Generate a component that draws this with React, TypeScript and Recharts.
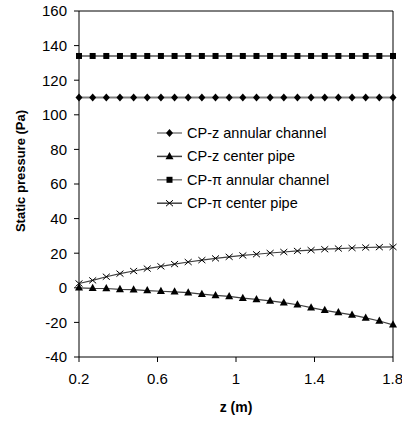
import { LineChart, Line, XAxis, YAxis, ReferenceLine } from 'recharts';

const zValues = [
  0.2, 0.2696, 0.3391, 0.4087, 0.4783, 0.5478, 0.6174, 0.687, 0.7565, 0.8261, 0.8957, 0.9652,
  1.0348, 1.1043, 1.1739, 1.2435, 1.313, 1.3826, 1.4522, 1.5217, 1.5913, 1.6609, 1.7304, 1.8,
];
const cpzAnnular = [
  110, 110, 110, 110, 110, 110, 110, 110, 110, 110, 110, 110,
  110, 110, 110, 110, 110, 110, 110, 110, 110, 110, 110, 110,
];
const cpzCenter = [
  0, -0.3, -0.4, -0.9, -1.1, -1.6, -2.0, -2.3, -2.8, -3.7, -4.4, -5.0,
  -6.0, -6.7, -7.6, -8.6, -9.8, -11.5, -13.0, -14.3, -15.7, -17.4, -19.2, -21.4,
];
const cppiAnnular = [
  134, 134, 134, 134, 134, 134, 134, 134, 134, 134, 134, 134,
  134, 134, 134, 134, 134, 134, 134, 134, 134, 134, 134, 134,
];
const cppiCenter = [
  2.5, 4.3, 6.4, 8.2, 9.7, 11.1, 12.4, 13.7, 14.9, 16.0, 17.0, 17.9,
  18.7, 19.4, 20.1, 20.7, 21.3, 21.8, 22.3, 22.7, 23.0, 23.3, 23.5, 23.6,
];
const xTicks = [0.2, 0.6, 1, 1.4, 1.8];
const yTicks = [-40, -20, 0, 20, 40, 60, 80, 100, 120, 140, 160];

const data = zValues.map((z, i) => ({
  z,
  cpzAnnular: cpzAnnular[i],
  cpzCenter: cpzCenter[i],
  cppiAnnular: cppiAnnular[i],
  cppiCenter: cppiCenter[i],
}));

const font = '"Liberation Sans", Arial, sans-serif';

type Shape = 'diamond' | 'triangle' | 'square' | 'cross';

function marker(shape: Shape, cx: number, cy: number, key?: string) {
  if (shape === 'diamond') {
    return <polygon key={key} points={`${cx},${cy - 4} ${cx + 3.5},${cy} ${cx},${cy + 4} ${cx - 3.5},${cy}`} fill="#000" />;
  }
  if (shape === 'triangle') {
    return <polygon key={key} points={`${cx},${cy - 4.5} ${cx + 4},${cy + 2.8} ${cx - 4},${cy + 2.8}`} fill="#000" />;
  }
  if (shape === 'square') {
    return <rect key={key} x={cx - 3} y={cy - 3} width={6} height={6} fill="#000" />;
  }
  return (
    <g key={key} stroke="#000" strokeWidth={1}>
      <line x1={cx - 3.5} y1={cy - 3} x2={cx + 3.5} y2={cy + 3} />
      <line x1={cx - 3.5} y1={cy + 3} x2={cx + 3.5} y2={cy - 3} />
    </g>
  );
}

const dotFor = (shape: Shape) => (p: any) => marker(shape, p.cx, p.cy, `${shape}-${p.index}`);

const legendRows: Array<{ label: string; shape: Shape; color: string }> = [
  { label: 'CP-z annular channel', shape: 'diamond', color: '#808080' },
  { label: 'CP-z center pipe', shape: 'triangle', color: '#404040' },
  { label: 'CP-π annular channel', shape: 'square', color: '#808080' },
  { label: 'CP-π center pipe', shape: 'cross', color: '#404040' },
];

function LegendBox() {
  return (
    <svg width={200} height={100} style={{ position: 'absolute', left: 150, top: 120 }}>
      {legendRows.map((r, i) => {
        const y = 13 + i * 23.4;
        return (
          <g key={r.label}>
            <line x1={7} y1={y} x2={32} y2={y} stroke={r.color} strokeWidth={1.5} />
            {marker(r.shape, 19.5, y)}
            <text x={37} y={y + 5} fontSize={14.5} fill="#000" fontFamily={font}>
              {r.label}
            </text>
          </g>
        );
      })}
    </svg>
  );
}

export default function App() {
  return (
    <div style={{ position: 'absolute', left: 0, top: 0, width: 402, height: 421, background: '#fff' }}>
      <LineChart width={402} height={421} data={data} margin={{ top: 11, right: 9, bottom: 0, left: 0 }}>
        <XAxis
          dataKey="z"
          type="number"
          domain={[0.2, 1.8]}
          ticks={xTicks}
          tickFormatter={(v: number) => String(v)}
          height={64}
          stroke="#000"
          tickSize={5}
          tickMargin={11}
          tick={{ fontSize: 15, fill: '#000', fontFamily: font }}
          label={{
            content: () => (
              <text x={236} y={412} textAnchor="middle" fontSize={14} fontWeight="bold" fontFamily={font} fill="#000">
                z (m)
              </text>
            ),
          }}
        />
        <YAxis
          type="number"
          domain={[-40, 160]}
          ticks={yTicks}
          width={79}
          stroke="#000"
          tickSize={5}
          tickMargin={7}
          tick={{ fontSize: 15, fill: '#000', fontFamily: font }}
          label={{
            content: () => (
              <text
                x={22}
                y={171}
                transform="rotate(-90 22 171)"
                textAnchor="middle"
                dominantBaseline="middle"
                fontSize={13}
                fontWeight="bold"
                fontFamily={font}
                fill="#000"
              >
                Static pressure (Pa)
              </text>
            ),
          }}
        />
        <ReferenceLine y={160} stroke="#000" strokeWidth={1} />
        <ReferenceLine x={1.8} stroke="#000" strokeWidth={1} />
        <Line
          dataKey="cpzAnnular"
          stroke="#808080"
          strokeWidth={1.8}
          dot={dotFor('diamond')}
          isAnimationActive={false}
        />
        <Line
          dataKey="cpzCenter"
          stroke="#404040"
          strokeWidth={1.2}
          dot={dotFor('triangle')}
          isAnimationActive={false}
        />
        <Line
          dataKey="cppiAnnular"
          stroke="#808080"
          strokeWidth={1.8}
          dot={dotFor('square')}
          isAnimationActive={false}
        />
        <Line
          dataKey="cppiCenter"
          stroke="#404040"
          strokeWidth={1.2}
          dot={dotFor('cross')}
          isAnimationActive={false}
        />
      </LineChart>
      <LegendBox />
    </div>
  );
}
